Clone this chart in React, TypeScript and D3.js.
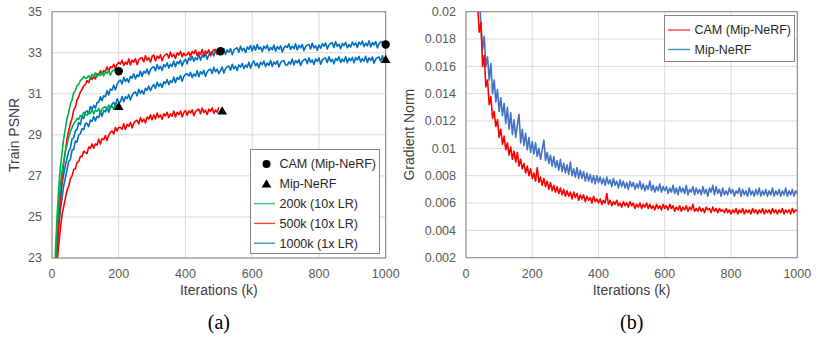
import React from 'react';
import * as d3 from 'd3';

// ---------- DATA ----------
// Left chart: Train PSNR, sampled every 5k iterations starting at 5k
const psnrStep = 5;
const psnrStart = 5;
const cam200k = [20.5,23.2,25.0,26.4,27.4,28.1,28.8,29.3,29.8,30.1,30.5,30.7,31.05,31.15,31.4,31.45,31.65,31.7,31.85,31.75,
  31.78,31.89,31.72,31.95,31.86,32.02,31.82,31.96,31.89,32.10,31.87,32.06,31.99,32.13,31.91,32.09,32.16,32.20,32.03,32.16];
const mip200k = [20.0,22.6,24.3,25.6,26.5,27.2,27.7,28.2,28.5,28.9,29.15,29.35,29.55,29.65,29.8,29.75,29.95,29.9,30.1,30.0,
  29.95,30.10,30.03,30.24,30.02,30.21,30.14,30.29,30.07,30.25,30.33,30.37,30.21,30.45,30.29,30.40,30.24,30.47,30.39,30.46];
const cam500k = [19.5,22.0,23.4,24.6,25.8,26.8,27.6,28.2,28.8,29.2,29.55,29.8,30.2,30.35,30.7,30.85,31.1,31.2,31.4,31.45,
  31.65,31.54,31.82,31.70,31.85,31.72,31.98,31.93,32.12,31.95,32.13,32.08,32.31,32.11,32.32,32.27,32.44,32.24,32.44,32.53,
  32.45,32.63,32.38,32.55,32.44,32.70,32.41,32.64,32.54,32.71,32.42,32.64,32.73,32.76,32.56,32.85,32.63,32.76,32.55,32.82,
  32.89,32.60,32.84,32.73,32.90,32.61,32.82,32.91,32.95,32.74,33.03,32.81,32.93,32.72,33.0,32.89,33.07,32.81,32.98,32.87,
  32.91,33.02,32.81,33.07,32.96,33.13,32.87,33.03,32.92,33.16,32.87,33.09,32.98,33.14,32.85,33.05,33.14,33.16,32.95,33.10];
const mip500k = [18.0,20.5,22.8,23.6,24.4,25.1,25.5,25.9,26.3,26.5,26.85,27.0,27.3,27.35,27.65,27.7,27.95,27.95,28.2,28.15,
  28.09,28.40,28.34,28.56,28.35,28.56,28.50,28.79,28.55,28.82,28.76,28.97,28.73,28.98,29.12,29.19,29.03,29.36,29.19,29.36,
  29.36,29.27,29.54,29.26,29.51,29.42,29.61,29.34,29.56,29.67,29.72,29.53,29.84,29.63,29.77,29.58,29.87,29.78,29.97,29.73,
  29.98,29.77,30.06,29.85,29.97,29.76,30.03,29.92,30.10,29.84,30.02,29.91,30.16,29.87,30.10,29.99,30.16,29.87,30.09,30.18,
  29.95,30.17,30.06,30.22,29.93,30.13,30.22,30.24,30.03,30.31,30.09,30.20,29.99,30.25,30.14,30.31,30.05,30.21,30.10,30.34];
const cam1000k = [19.5,22.5,24.0,25.1,25.9,26.6,27.1,27.5,27.85,28.2,28.35,28.8,28.85,29.2,29.25,29.6,29.5,29.9,29.8,30.1,
  30.17,30.02,30.38,30.25,30.44,30.30,30.56,30.60,30.85,30.66,30.90,30.86,31.16,30.94,31.23,31.18,31.42,31.19,31.46,31.60,
  31.67,31.48,31.80,31.60,31.74,31.56,31.85,31.76,31.97,31.73,31.92,31.84,32.11,31.84,32.10,32.01,32.20,31.94,32.17,32.28,
  32.32,32.12,32.42,32.21,32.34,32.14,32.42,32.32,32.51,32.26,32.44,32.34,32.60,32.32,32.56,32.46,32.64,32.36,32.58,32.68,
  32.46,32.74,32.64,32.83,32.58,32.76,32.66,32.92,32.64,32.88,32.78,32.96,32.68,32.90,33.0,33.04,32.84,33.14,32.93,33.06,
  33.06,32.95,33.20,32.91,33.14,33.03,33.20,32.91,33.12,33.21,33.24,33.03,33.32,33.10,33.22,33.01,33.28,33.17,33.35,33.08,
  33.34,33.12,33.40,33.17,33.28,33.06,33.32,33.20,33.37,33.10,33.26,33.14,33.38,33.08,33.30,33.18,33.34,33.04,33.24,33.32,
  33.26,33.43,33.16,33.32,33.20,33.44,33.14,33.36,33.24,33.40,33.10,33.30,33.38,33.40,33.18,33.46,33.23,33.34,33.12,33.38,
  33.22,33.44,33.32,33.48,33.18,33.38,33.46,33.48,33.26,33.54,33.31,33.42,33.20,33.46,33.34,33.51,33.24,33.40,33.28,33.52,
  33.37,33.48,33.26,33.52,33.40,33.57,33.30,33.46,33.34,33.58,33.28,33.50,33.38,33.54,33.24,33.44,33.52,33.54,33.32,33.44];
const mip1000k = [19.0,22.0,23.3,24.5,25.3,25.9,26.5,26.9,27.3,27.7,27.8,28.25,28.3,28.7,28.65,29.0,29.05,29.3,29.25,29.55,
  29.56,29.40,29.72,29.66,29.89,29.68,29.90,29.84,30.14,29.90,30.18,30.12,30.34,30.10,30.36,30.50,30.58,30.42,30.76,30.59,
  30.60,30.87,30.61,30.86,30.77,30.96,30.70,30.93,31.04,31.09,30.90,31.22,31.02,31.16,30.98,31.27,31.18,31.38,31.15,31.34,
  31.45,31.26,31.56,31.36,31.50,31.31,31.59,31.50,31.70,31.45,31.64,31.55,31.82,31.54,31.79,31.70,31.89,31.61,31.84,31.95,
  31.97,31.86,32.05,31.79,31.97,31.86,32.12,31.83,32.07,31.96,32.14,31.85,32.07,32.16,32.20,31.99,32.29,32.07,32.20,31.99,
  32.13,32.30,32.02,32.23,32.32,32.35,32.15,32.44,32.22,32.34,32.14,32.41,32.30,32.48,32.23,32.40,32.29,32.54,32.25,32.48,
  32.60,32.37,32.49,32.27,32.54,32.42,32.60,32.33,32.50,32.38,32.62,32.33,32.55,32.44,32.60,32.31,32.51,32.60,32.62,32.40,
  32.40,32.56,32.45,32.69,32.40,32.62,32.51,32.67,32.38,32.58,32.66,32.69,32.47,32.76,32.53,32.65,32.43,32.70,32.58,32.75,
  32.44,32.64,32.72,32.74,32.52,32.80,32.57,32.68,32.46,32.72,32.63,32.80,32.53,32.69,32.57,32.81,32.51,32.73,32.61,32.77,
  32.51,32.77,32.65,32.82,32.55,32.71,32.59,32.83,32.53,32.75,32.63,32.79,32.49,32.69,32.77,32.79,32.57,32.85,32.62,32.73];

// end-of-training markers [iteration (k), PSNR]
const camMarkers = [[200, 32.1], [505, 33.07], [1000, 33.4]];
const mipMarkers = [[200, 30.4], [510, 30.18], [1000, 32.68]];

// Right chart: gradient norm, sampled every 5k iterations
const gradStep = 5;
const gradCamStart = 35;
const gradMipStart = 40;
const gradCam = [0.0205,0.0185,0.0192,0.0160,0.0168,0.0145,0.0150,0.0132,0.0138,0.0122,
  0.0127,0.0116,0.0121,0.0108,0.0114,0.0103,0.0109,0.0099,0.0104,0.0095,
  0.0101,0.0092,0.0098,0.0090,0.0097,0.0087,0.0092,0.0085,0.0089,0.0082,
  0.0087,0.0080,0.0085,0.0078,
  0.0082,0.0076,0.0086,0.0075,0.0079,0.0073,0.0078,0.0072,0.0076,0.0070,
  0.0075,0.0069,0.0073,0.0068,0.0072,0.0067,0.0071,0.0066,0.0070,0.0065,
  0.0069,0.0065,0.0068,0.0063,0.0068,0.0064,0.0067,0.0062,0.0066,0.0063,
  0.0066,0.0061,0.0065,0.0062,0.0064,0.0060,0.0065,0.0061,0.0063,0.0060,
  0.0063,0.0059,0.0062,0.0060,0.0067,0.0059,0.0062,0.0058,0.0061,0.0059,
  0.0062,0.0058,0.0060,0.0057,0.0061,0.0058,0.0060,0.0057,0.0061,0.0058,
  0.0060,0.0056,0.0059,0.0057,0.0060,0.0056,0.0059,0.0057,0.0060,0.0056,
  0.0059,0.0056,0.0058,0.0055,0.0059,0.0056,0.0058,0.0055,0.0059,0.0056,
  0.0058,0.0055,0.0059,0.0056,0.0058,0.0054,0.0057,0.0055,0.0058,0.0054,
  0.0057,0.0055,0.0058,0.0054,0.0057,0.0055,0.0059,0.0054,0.0056,0.0054,
  0.0057,0.0054,0.0056,0.0053,0.0057,0.0055,0.0056,0.0053,0.0057,0.0054,
  0.0056,0.0053,0.0056,0.0054,0.0055,0.0053,0.0056,0.0053,0.0055,0.0052,
  0.0055,0.0053,0.0056,0.0052,0.0055,0.0053,0.0056,0.0052,0.0055,0.0053,
  0.0055,0.0052,0.0056,0.0053,0.0055,0.0052,0.0055,0.0053,0.0056,0.0052,
  0.0055,0.0053,0.0055,0.0052,0.0056,0.0053,0.0055,0.0052,0.0055,0.0053,
  0.0056,0.0052,0.0055,0.0053,0.0055,0.0052,0.0056,0.0053,0.0055,0.0054];
const gradMip = [0.0210,0.0192,0.0172,0.0182,0.0160,0.0167,0.0150,0.0162,0.0140,0.0150,
  0.0134,0.0143,0.0127,0.0137,0.0124,0.0133,0.0118,0.0130,0.0114,0.0126,
  0.0110,0.0121,0.0108,0.0117,0.0125,0.0104,0.0114,0.0102,0.0111,0.0099,
  0.0108,0.0097,0.0105,
  0.0096,0.0104,0.0094,0.0100,0.0092,0.0099,0.0106,0.0091,0.0097,0.0089,
  0.0095,0.0087,0.0094,0.0086,0.0091,0.0084,0.0092,0.0083,0.0089,0.0082,
  0.0088,0.0081,0.0090,0.0080,0.0085,0.0079,0.0086,0.0078,0.0084,0.0078,
  0.0083,0.0076,0.0082,0.0076,0.0081,0.0075,0.0080,0.0074,0.0080,0.0075,
  0.0079,0.0074,0.0078,0.0073,0.0079,0.0074,0.0077,0.0072,0.0078,0.0073,
  0.0076,0.0071,0.0077,0.0072,0.0076,0.0071,0.0075,0.0070,0.0076,0.0072,
  0.0075,0.0070,0.0074,0.0071,0.0076,0.0070,0.0074,0.0069,0.0073,0.0070,
  0.0076,0.0069,0.0073,0.0068,0.0072,0.0069,0.0074,0.0068,0.0072,0.0069,
  0.0072,0.0067,0.0071,0.0068,0.0073,0.0067,0.0071,0.0066,0.0072,0.0068,
  0.0071,0.0067,0.0073,0.0066,0.0070,0.0068,0.0072,0.0066,0.0071,0.0067,
  0.0070,0.0066,0.0072,0.0067,0.0070,0.0065,0.0071,0.0068,0.0073,0.0066,
  0.0072,0.0067,0.0070,0.0065,0.0071,0.0066,0.0069,0.0066,0.0071,0.0067,
  0.0070,0.0065,0.0069,0.0067,0.0071,0.0065,0.0070,0.0066,0.0069,0.0065,
  0.0071,0.0066,0.0069,0.0065,0.0070,0.0066,0.0071,0.0065,0.0069,0.0066,
  0.0070,0.0065,0.0069,0.0066,0.0071,0.0065,0.0069,0.0066,0.0070,0.0065,
  0.0069,0.0066,0.0071,0.0065,0.0069,0.0066,0.0070,0.0065,0.0069,0.0067];

const xTicks = [0, 200, 400, 600, 800, 1000];
const psnrTicks = [23, 25, 27, 29, 31, 33, 35];
const gradTicks = [0.002, 0.004, 0.006, 0.008, 0.01, 0.012, 0.014, 0.016, 0.018, 0.02];

const leftLegend = ['CAM (Mip-NeRF)', 'Mip-NeRF', '200k (10x LR)', '500k (10x LR)', '1000k (1x LR)'];
const rightLegend = ['CAM (Mip-NeRF)', 'Mip-NeRF'];

const GREEN = '#00b050';
const RED = '#ff0000';
const BLUE = '#0070c0';
const BLUE2 = '#4472c4';
const FONT = "'Liberation Sans', Arial, sans-serif";

function toPts(vals: number[], start: number, step: number): [number, number][] {
  return vals.map((v, i) => [start + i * step, v]);
}

export default function App() {
  const xL = d3.scaleLinear().domain([0, 1000]).range([52, 385.7]);
  const yL = d3.scaleLinear().domain([23, 35]).range([258, 11.7]);
  const xR = d3.scaleLinear().domain([0, 1000]).range([466, 797.3]);
  const yR = d3.scaleLinear().domain([0.002, 0.02]).range([257.7, 11.7]);

  const lineL = d3.line<[number, number]>().x(d => xL(d[0])).y(d => yL(d[1]));
  const lineR = d3.line<[number, number]>().x(d => xR(d[0])).y(d => yR(d[1]));

  const leftSeries = [
    { vals: mip1000k, color: BLUE },
    { vals: cam1000k, color: BLUE },
    { vals: mip500k, color: RED },
    { vals: cam500k, color: RED },
    { vals: mip200k, color: GREEN },
    { vals: cam200k, color: GREEN },
  ];
  const gradFmt = d3.format('.3~f');
  const tickColor = '#595959';
  const gridColor = '#d9d9d9';
  const borderColor = '#868686';
  const lw = 1.6;

  const [lx0, lx1] = xL.range();
  const [ly0, ly1] = yL.range();
  const [rx0, rx1] = xR.range();
  const [ry0, ry1] = yR.range();

  const tri = (cx: number, cy: number) => `M${cx},${cy - 4.5}L${cx + 4.8},${cy + 3.8}L${cx - 4.8},${cy + 3.8}Z`;

  return (
    <svg width={830} height={342} style={{ position: 'absolute', left: 0, top: 0, background: '#fff' }} fontFamily={FONT}>
      <defs>
        <clipPath id="clipL"><rect x={lx0} y={ly1} width={lx1 - lx0} height={ly0 - ly1} /></clipPath>
        <clipPath id="clipR"><rect x={rx0} y={ry1} width={rx1 - rx0} height={ry0 - ry1} /></clipPath>
      </defs>

      {/* ---------- LEFT CHART ---------- */}
      {xTicks.map(t => (
        <line key={'lgx' + t} x1={xL(t)} x2={xL(t)} y1={ly1} y2={ly0} stroke={gridColor} strokeWidth={1} />
      ))}
      {psnrTicks.map(t => (
        <line key={'lgy' + t} x1={lx0} x2={lx1} y1={yL(t)} y2={yL(t)} stroke={gridColor} strokeWidth={1} />
      ))}
      <g clipPath="url(#clipL)">
        {leftSeries.map((s, i) => (
          <path key={i} d={lineL(toPts(s.vals, psnrStart, psnrStep)) || ''} fill="none" stroke={s.color} strokeWidth={lw} strokeLinejoin="round" />
        ))}
      </g>
      <rect x={lx0} y={ly1} width={lx1 - lx0} height={ly0 - ly1} fill="none" stroke={borderColor} strokeWidth={1} />
      {camMarkers.map((m, i) => (
        <circle key={'cm' + i} cx={xL(m[0])} cy={yL(m[1])} r={4.2} fill="#000" />
      ))}
      {mipMarkers.map((m, i) => (
        <path key={'mm' + i} d={tri(xL(m[0]), yL(m[1]))} fill="#000" />
      ))}
      {psnrTicks.map(t => (
        <text key={'lty' + t} x={lx0 - 10} y={yL(t)} dy="0.35em" textAnchor="end" fontSize={12.5} fill={tickColor}>{t}</text>
      ))}
      {xTicks.map(t => (
        <text key={'ltx' + t} x={xL(t)} y={278} textAnchor="middle" fontSize={12.5} fill={tickColor}>{t}</text>
      ))}
      <text x={(lx0 + lx1) / 2} y={295} textAnchor="middle" fontSize={14} fill="#404040">Iterations (k)</text>
      <text transform={`translate(19,${(ly0 + ly1) / 2}) rotate(-90)`} textAnchor="middle" fontSize={14} fill="#404040">Train PSNR</text>

      {/* left legend */}
      <rect x={250.5} y={149.5} width={129} height={104} fill="#fff" stroke={borderColor} strokeWidth={1} />
      {leftLegend.map((label, i) => {
        const cy = 164 + i * 19.8;
        return (
          <g key={'ll' + i}>
            {i === 0 && <circle cx={266.5} cy={cy} r={4} fill="#000" />}
            {i === 1 && <path d={tri(266.5, cy)} fill="#000" />}
            {i >= 2 && (
              <line x1={254} x2={275} y1={cy} y2={cy} stroke={[GREEN, RED, BLUE][i - 2]} strokeWidth={1.4} opacity={0.75} />
            )}
            <text x={279.5} y={cy} dy="0.35em" fontSize={12.5} fill="#262626">{label}</text>
          </g>
        );
      })}

      {/* ---------- RIGHT CHART ---------- */}
      {xTicks.map(t => (
        <line key={'rgx' + t} x1={xR(t)} x2={xR(t)} y1={ry1} y2={ry0} stroke={gridColor} strokeWidth={1} />
      ))}
      {gradTicks.map(t => (
        <line key={'rgy' + t} x1={rx0} x2={rx1} y1={yR(t)} y2={yR(t)} stroke={gridColor} strokeWidth={1} />
      ))}
      <g clipPath="url(#clipR)">
        <path d={lineR(toPts(gradMip, gradMipStart, gradStep)) || ''} fill="none" stroke={BLUE2} strokeWidth={lw} strokeLinejoin="round" />
        <path d={lineR(toPts(gradCam, gradCamStart, gradStep)) || ''} fill="none" stroke={RED} strokeWidth={lw} strokeLinejoin="round" />
      </g>
      <rect x={rx0} y={ry1} width={rx1 - rx0} height={ry0 - ry1} fill="none" stroke={borderColor} strokeWidth={1} />
      {gradTicks.map(t => (
        <text key={'rty' + t} x={rx0 - 10} y={yR(t)} dy="0.35em" textAnchor="end" fontSize={12.5} fill={tickColor}>{gradFmt(t)}</text>
      ))}
      {xTicks.map(t => (
        <text key={'rtx' + t} x={xR(t)} y={278} textAnchor="middle" fontSize={12.5} fill={tickColor}>{t}</text>
      ))}
      <text x={(rx0 + rx1) / 2} y={295} textAnchor="middle" fontSize={14} fill="#404040">Iterations (k)</text>
      <text transform={`translate(414,${(ry0 + ry1) / 2}) rotate(-90)`} textAnchor="middle" fontSize={14} fill="#404040">Gradient Norm</text>

      {/* right legend */}
      <rect x={664.5} y={15.5} width={130} height={46} fill="#fff" stroke={borderColor} strokeWidth={1} />
      {rightLegend.map((label, i) => {
        const cy = 30 + i * 19.5;
        return (
          <g key={'rl' + i}>
            <line x1={668} x2={690} y1={cy} y2={cy} stroke={[RED, BLUE][i]} strokeWidth={1.4} opacity={0.75} />
            <text x={694.5} y={cy} dy="0.35em" fontSize={12.5} fill="#262626">{label}</text>
          </g>
        );
      })}

      {/* captions */}
      <text x={(lx0 + lx1) / 2} y={329} textAnchor="middle" fontSize={20} fontFamily="'Liberation Serif', 'Times New Roman', serif" fill="#000">(a)</text>
      <text x={(rx0 + rx1) / 2} y={329} textAnchor="middle" fontSize={20} fontFamily="'Liberation Serif', 'Times New Roman', serif" fill="#000">(b)</text>
    </svg>
  );
}
